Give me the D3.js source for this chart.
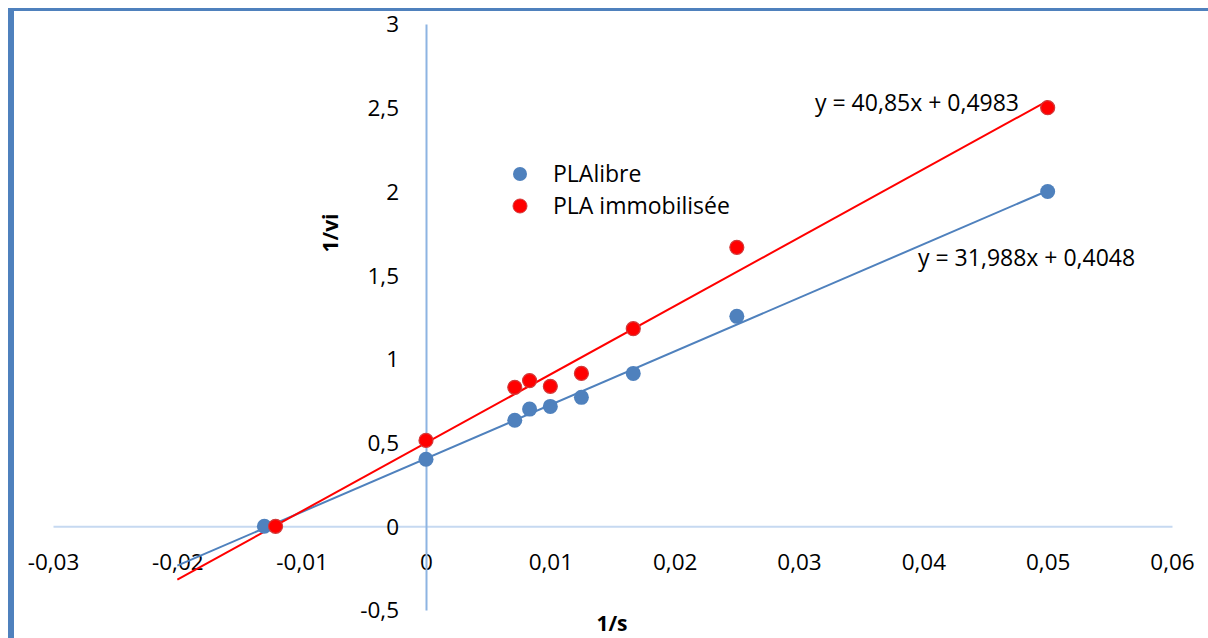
<!DOCTYPE html>
<html>
<head>
<meta charset="UTF-8">
<title>1/vi vs 1/s</title>
<style>
  body { margin: 0; background: #fff; }
  svg text { font-family: "Open Sans", "Noto Sans", sans-serif; fill: #000; }
</style>
</head>
<body>
<svg width="1208" height="638"></svg>
<script src="https://d3js.org/d3.v7.min.js"></script>
<script>
// data
var seriesNames = ["PLAlibre", "PLA immobilisée"];
var libreX = [-0.013, 0, 0.00714, 0.00833, 0.01, 0.0125, 0.01667, 0.025, 0.05];
var libreY = [0, 0.40, 0.633, 0.70, 0.716, 0.77, 0.913, 1.254, 2.0];
var immoX = [-0.0121, 0, 0.00714, 0.00833, 0.01, 0.0125, 0.01667, 0.025, 0.05];
var immoY = [0, 0.513, 0.83, 0.87, 0.836, 0.913, 1.18, 1.666, 2.5];
// trendline coefficients [slope, intercept] and x range
var libreFit = [31.988, 0.4048];
var immoFit = [40.85, 0.4983];
var fitRange = [-0.02, 0.05];
var xTicks = [-0.03, -0.02, -0.01, 0, 0.01, 0.02, 0.03, 0.04, 0.05, 0.06];
var yTicks = [-0.5, 0, 0.5, 1, 1.5, 2, 2.5, 3];
var eqLabels = ["y = 31,988x + 0,4048", "y = 40,85x + 0,4983"];

var blue = "#4f81bd", red = "#ff0000";

var fr = d3.formatLocale({decimal: ",", thousands: " ", grouping: [3], currency: ["", ""], minus: "-"});
var fmt = function(d) { return d === 0 ? "0" : fr.format("")(+d.toFixed(4)); };

var svg = d3.select("svg");

// outer frame
svg.append("rect")
  .attr("x", 11).attr("y", 9.5)
  .attr("width", 1300).attr("height", 700)
  .attr("fill", "none")
  .attr("stroke", blue)
  .attr("stroke-width", 3);
svg.append("rect").attr("x", 8).attr("y", 8).attr("width", 6).attr("height", 640).attr("fill", blue);

var x = d3.scaleLinear().domain([-0.03, 0.06]).range([53, 1172]);
var y = d3.scaleLinear().domain([-0.5, 3]).range([610, 24]);

// horizontal axis through y = 0
var gx = svg.append("g")
  .attr("transform", "translate(0," + y(0) + ")")
  .call(d3.axisBottom(x).tickValues(xTicks).tickSize(0).tickPadding(0).tickFormat(fmt));
gx.select(".domain").attr("stroke", "#c6d9f1").attr("stroke-width", 2);
gx.selectAll("text")
  .attr("y", 36).attr("dy", "0.35em")
  .style("font-size", "22.5px");

// vertical axis through x = 0
var gy = svg.append("g")
  .attr("transform", "translate(" + x(0) + ",0)")
  .call(d3.axisLeft(y).tickValues(yTicks).tickSize(0).tickPadding(0).tickFormat(fmt));
gy.select(".domain").attr("stroke", "#8db4e2").attr("stroke-width", 2);
gy.selectAll("text")
  .attr("x", -27).attr("dy", "0.35em")
  .style("font-size", "22.5px");

// axis titles
svg.append("text")
  .attr("transform", "translate(331," + 233 + ") rotate(-90)")
  .attr("text-anchor", "middle")
  .attr("dy", "0.35em")
  .style("font-size", "21px").style("font-weight", "bold")
  .text("1/vi");
svg.append("text")
  .attr("x", 612).attr("y", 624)
  .attr("text-anchor", "middle")
  .attr("dy", "0.35em")
  .style("font-size", "21px").style("font-weight", "bold")
  .text("1/s");

// trendlines
var fits = [[libreFit, blue], [immoFit, red]];
fits.forEach(function(f) {
  var pts = fitRange.map(function(v) { return [v, f[0][0] * v + f[0][1]]; });
  svg.append("path")
    .attr("d", d3.line().x(function(d) { return x(d[0]); }).y(function(d) { return y(d[1]); })(pts))
    .attr("stroke", f[1])
    .attr("stroke-width", 2)
    .attr("fill", "none");
});

// points
var libre = libreX.map(function(v, i) { return [v, libreY[i]]; });
var immo = immoX.map(function(v, i) { return [v, immoY[i]]; });

svg.append("g").selectAll("circle")
  .data(libre).enter().append("circle")
  .attr("cx", function(d) { return x(d[0]); })
  .attr("cy", function(d) { return y(d[1]); })
  .attr("r", 7.5)
  .attr("fill", blue);

svg.append("g").selectAll("circle")
  .data(immo).enter().append("circle")
  .attr("cx", function(d) { return x(d[0]); })
  .attr("cy", function(d) { return y(d[1]); })
  .attr("r", 7)
  .attr("fill", red)
  .attr("stroke", "#d23a3a")
  .attr("stroke-width", 1.2);

// equations
svg.append("text").attr("x", 918).attr("y", 258).attr("dy", "0.35em")
  .style("font-size", "23px").text(eqLabels[0]);
svg.append("text").attr("x", 815).attr("y", 103).attr("dy", "0.35em")
  .style("font-size", "23px").text(eqLabels[1]);

// legend
var legend = svg.append("g");
[blue, red].forEach(function(c, i) {
  legend.append("circle")
    .attr("cx", 520).attr("cy", 174 + i * 32)
    .attr("r", 7)
    .attr("fill", c)
    .attr("stroke", i === 1 ? "#d23a3a" : "none");
  legend.append("text")
    .attr("x", 553).attr("y", 174 + i * 32).attr("dy", "0.35em")
    .style("font-size", "23px")
    .text(seriesNames[i]);
});
</script>
</body>
</html>
